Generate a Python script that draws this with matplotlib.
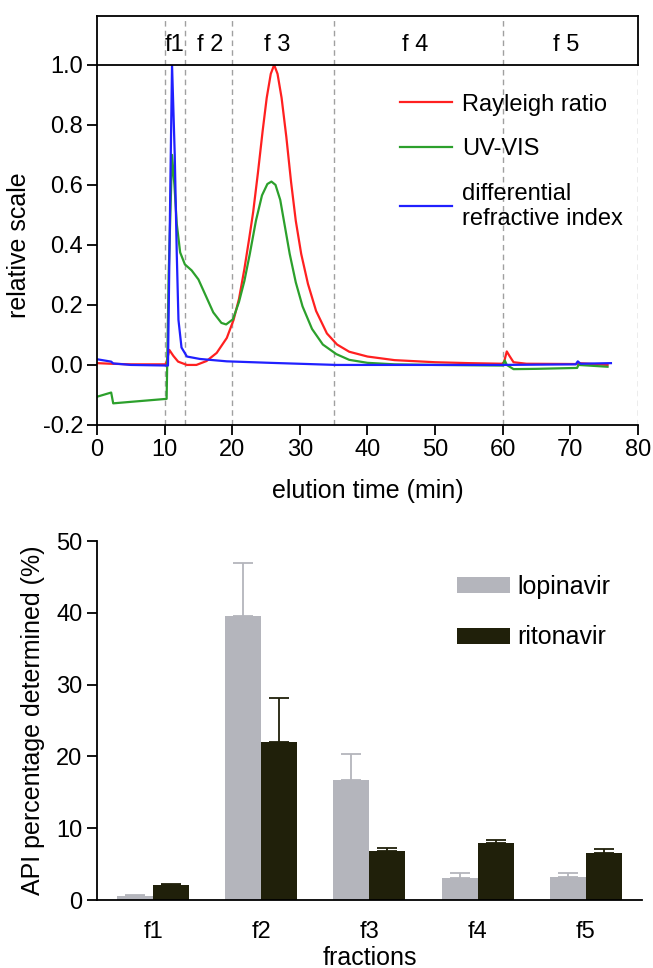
import matplotlib
matplotlib.use("Agg")
import matplotlib.pyplot as plt
import numpy as np

plt.rcParams['font.family'] = ['Liberation Sans', 'DejaVu Sans']

# ---------------- data: chromatogram ----------------
rayleigh_t = [0, 2, 5, 10.2, 10.7, 11.3, 12.0, 13.3, 14.7, 16.2, 17.7, 19.2, 20.2, 21.0,
              21.8, 22.5, 23.1, 23.8, 24.5, 25.1, 25.7, 26.2, 26.7, 27.3, 28.0, 28.7,
              29.4, 30.2, 31.2, 32.4, 34.0, 35.5, 37.3, 40.0, 44.0, 50.0, 55.0, 59.9,
              60.2, 60.6, 61.0, 61.6, 63.5, 71.0, 71.2, 75.5]
rayleigh_y = [0.006, 0.004, 0.002, 0.002, 0.05, 0.03, 0.011, 0.0, 0.0, 0.013, 0.04,
              0.09, 0.15, 0.22, 0.32, 0.42, 0.51, 0.64, 0.78, 0.89, 0.97, 1.0, 0.97,
              0.89, 0.76, 0.61, 0.48, 0.37, 0.27, 0.18, 0.105, 0.068, 0.044, 0.028,
              0.016, 0.009, 0.006, 0.004, 0.01, 0.045, 0.03, 0.009, 0.004, 0.003,
              0.006, 0.0]

uv_t = [0, 2.1, 2.4, 5, 10.3, 10.6, 11.1, 11.45, 11.8, 12.3, 13.0, 14.0, 15.0, 16.0,
        17.2, 18.4, 19.1, 20.1, 21.0, 21.8, 22.6, 23.5, 24.4, 25.2, 25.8, 26.4, 27.1,
        27.8, 28.5, 29.4, 30.4, 31.8, 33.4, 35.4, 37.3, 40.0, 44.0, 50.0, 60.0, 60.3,
        60.6, 61.6, 65.0, 71.0, 71.2, 75.5]
uv_y = [-0.106, -0.092, -0.128, -0.123, -0.113, 0.3, 0.7, 0.6, 0.47, 0.375, 0.335,
        0.315, 0.285, 0.235, 0.175, 0.14, 0.135, 0.152, 0.21, 0.28, 0.37, 0.48, 0.565,
        0.603, 0.611, 0.6, 0.55, 0.46, 0.37, 0.275, 0.195, 0.12, 0.068, 0.036, 0.017,
        0.007, 0.002, 0.0, -0.002, 0.015, 0.0, -0.014, -0.013, -0.01, 0.0, -0.006]

dri_t = [0, 2.1, 2.4, 5, 10.5, 10.85, 11.1, 11.5, 11.8, 12.05, 12.5, 13.3, 15.2, 19.2,
         25.6, 35.4, 50, 60, 70.8, 71.1, 71.5, 76]
dri_y = [0.019, 0.011, 0.005, 0.0, -0.002, 0.6, 1.0, 0.7, 0.37, 0.15, 0.058, 0.028,
         0.02, 0.012, 0.007, 0.0, 0.0, 0.0, 0.002, 0.012, 0.004, 0.006]

fraction_edges = [10, 13, 20, 35, 60, 80]
fraction_labels = ['f1', 'f 2', 'f 3', 'f 4', 'f 5']
fraction_label_x = [11.4, 16.7, 26.6, 47.0, 69.4]

# ---------------- data: bars ----------------
fractions = ['f1', 'f2', 'f3', 'f4', 'f5']
lopinavir = [0.5, 39.5, 16.7, 3.1, 3.2]
lopinavir_err = [0.2, 7.4, 3.6, 0.7, 0.5]
ritonavir = [2.1, 22.0, 6.9, 7.9, 6.6]
ritonavir_err = [0.2, 6.1, 0.4, 0.5, 0.5]

TICK = 17
LAB = 18

fig = plt.figure(figsize=(6.53, 9.68), dpi=100)

# ---------- top chart ----------
ax = fig.add_axes([0.1485, 0.561, 0.8285, 0.372])
ax.plot(rayleigh_t, rayleigh_y, color='#ff2020', lw=1.6, label='Rayleigh ratio')
ax.plot(uv_t, uv_y, color='#2ca02c', lw=1.6, label='UV-VIS')
ax.plot(dri_t, dri_y, color='#2020ff', lw=1.6, label='differential\nrefractive index')
for e in fraction_edges:
    ax.axvline(e, color='#a0a0a0', lw=1.0, ls=(0, (4, 3)), zorder=0)
ax.set_xlim(0, 80)
ax.set_ylim(-0.2, 1.0)
ax.set_xticks(np.arange(0, 81, 10))
ax.set_yticks([-0.2, 0.0, 0.2, 0.4, 0.6, 0.8, 1.0])
ax.set_yticklabels(['-0.2', '0.0', '0.2', '0.4', '0.6', '0.8', '1.0'])
for s in ['top', 'right']:
    ax.spines[s].set_visible(False)
for s in ['left', 'bottom']:
    ax.spines[s].set_linewidth(1.3)
ax.tick_params(direction='out', length=7, width=1.3, labelsize=TICK, pad=3)
ax.set_xlabel('elution time (min)', fontsize=LAB, labelpad=13)
ax.set_ylabel('relative scale', fontsize=LAB, labelpad=8)
ax.legend(loc='upper left', bbox_to_anchor=(0.56, 0.92), frameon=False, fontsize=TICK,
          handlelength=2.2, handletextpad=0.42, labelspacing=0.95, borderpad=0,
          borderaxespad=0)

# header box
hx = fig.add_axes([0.1485, 0.933, 0.8285, 0.050])
hx.set_xlim(0, 80)
hx.set_ylim(0, 1)
hx.set_xticks([])
hx.set_yticks([])
for s in hx.spines.values():
    s.set_linewidth(1.3)
for e in fraction_edges:
    hx.axvline(e, color='#a0a0a0', lw=1.0, ls=(0, (4, 3)), zorder=0)
for lab, xp in zip(fraction_labels, fraction_label_x):
    hx.text(xp, 0.42, lab, ha='center', va='center', fontsize=TICK)

# ---------- bar chart ----------
bx = fig.add_axes([0.1485, 0.0702, 0.8345, 0.3708])
xpos = np.arange(len(fractions))
w = 0.333
gray = '#b4b5bc'
dark = '#20200a'
bx.bar(xpos - w / 2, lopinavir, w, color=gray, label='lopinavir', zorder=2)
bx.bar(xpos + w / 2, ritonavir, w, color=dark, label='ritonavir', zorder=2)
bx.errorbar(xpos - w / 2, lopinavir, yerr=[np.zeros(5), lopinavir_err], fmt='none',
            ecolor=gray, elinewidth=1.3, capsize=7, capthick=1.3, zorder=1)
bx.errorbar(xpos + w / 2, ritonavir, yerr=[np.zeros(5), ritonavir_err], fmt='none',
            ecolor=dark, elinewidth=1.3, capsize=7, capthick=1.3, zorder=1)
bx.set_xlim(-0.52, 4.52)
bx.set_ylim(0, 50)
bx.set_yticks([0, 10, 20, 30, 40, 50])
bx.set_xticks(xpos)
bx.set_xticklabels(fractions)
for s in ['top', 'right']:
    bx.spines[s].set_visible(False)
for s in ['left', 'bottom']:
    bx.spines[s].set_linewidth(1.3)
bx.tick_params(axis='y', direction='out', length=7, width=1.3, labelsize=TICK)
bx.tick_params(axis='x', length=0, labelsize=TICK, pad=15)
bx.set_xlabel('fractions', fontsize=LAB, labelpad=2)
bx.set_ylabel('API percentage determined (%)', fontsize=LAB, labelpad=8)
bx.legend(loc='upper left', bbox_to_anchor=(0.661, 0.905), frameon=False, fontsize=LAB,
          handlelength=2.1, handleheight=0.6, handletextpad=0.3, labelspacing=1.05,
          borderpad=0, borderaxespad=0)

fig.savefig('out.png', dpi=100)
